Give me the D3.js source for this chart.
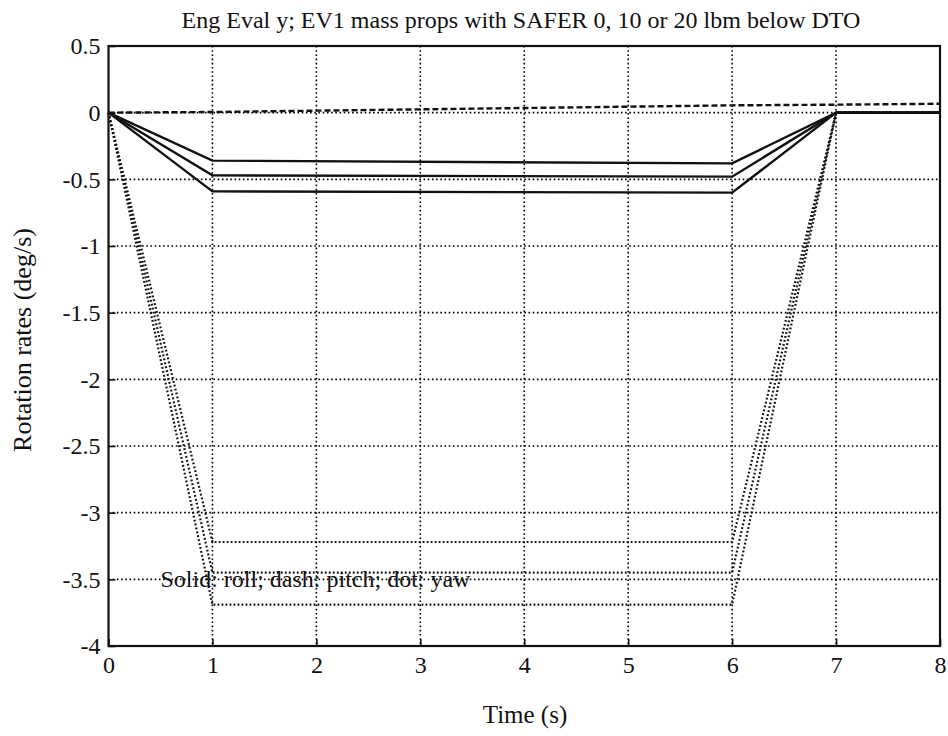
<!DOCTYPE html>
<html>
<head>
<meta charset="utf-8">
<script src="https://cdn.jsdelivr.net/npm/d3@7"></script>
<style>
  body { margin: 0; background: #fff; }
  text { font-family: "Liberation Serif", "DejaVu Serif", serif; fill: #111; }
</style>
</head>
<body>
<div id="chart"></div>
<script>
// time samples (s)
var times = [0, 1, 6, 7, 8];
// roll rates, solid lines (deg/s), one per SAFER mass case
var roll0 = [0, -0.36, -0.38, 0, 0];
var roll10 = [0, -0.47, -0.48, 0, 0];
var roll20 = [0, -0.59, -0.60, 0, 0];
// pitch rate, dashed
var pitchTimes = [0, 1, 2, 3, 4, 5, 6, 7, 8];
var pitch = [0, 0.005, 0.015, 0.025, 0.035, 0.045, 0.055, 0.06, 0.067];
// yaw rates, dotted
var yaw0 = [0, -3.22, -3.22, 0, 0];
var yaw10 = [0, -3.45, -3.45, 0, 0];
var yaw20 = [0, -3.69, -3.69, 0, 0];

var xTicks = [0, 1, 2, 3, 4, 5, 6, 7, 8];
var yTicks = [0.5, 0, -0.5, -1, -1.5, -2, -2.5, -3, -3.5, -4];

var titleText = "Eng Eval y; EV1 mass props with SAFER 0, 10 or 20 lbm below DTO";
var xLabel = "Time (s)";
var yLabel = "Rotation rates (deg/s)";
var note = "Solid: roll; dash: pitch; dot: yaw";

var W = 948, H = 736;
var plotL = 108.5, plotT = 46, plotR = 940, plotB = 646;

var svg = d3.select("#chart").append("svg")
  .attr("width", W).attr("height", H);

var x = d3.scaleLinear().domain([0, 8]).range([plotL, plotR]);
var y = d3.scaleLinear().domain([-4, 0.5]).range([plotB, plotT]);

// grid
var grid = svg.append("g").attr("stroke", "#000").attr("stroke-width", 1.6)
  .attr("stroke-dasharray", "1.6,2.6");
grid.selectAll(".gx").data(xTicks.slice(1, -1)).enter().append("line")
  .attr("x1", d => x(d)).attr("x2", d => x(d))
  .attr("y1", plotT).attr("y2", plotB);
grid.selectAll(".gy").data(yTicks.slice(1, -1)).enter().append("line")
  .attr("y1", d => y(d)).attr("y2", d => y(d))
  .attr("x1", plotL).attr("x2", plotR);

// axes (ticks inward)
var xAxis = d3.axisBottom(x).tickValues(xTicks).tickSize(-7).tickPadding(10)
  .tickFormat(d3.format("d"));
var yAxis = d3.axisLeft(y).tickValues(yTicks).tickSize(-7).tickPadding(8)
  .tickFormat(d => d === 0 ? "0" : String(d));

var gx = svg.append("g").attr("transform", "translate(0," + plotB + ")").call(xAxis);
var gy = svg.append("g").attr("transform", "translate(" + plotL + ",0)").call(yAxis);
[gx, gy].forEach(g => {
  g.select(".domain").remove();
  g.selectAll("line").attr("stroke", "#111").attr("stroke-width", 1.6);
  g.selectAll("text").attr("font-size", 24);
});

// frame
svg.append("rect")
  .attr("x", plotL).attr("y", plotT)
  .attr("width", plotR - plotL).attr("height", plotB - plotT)
  .attr("fill", "none").attr("stroke", "#111").attr("stroke-width", 2.2);

var line = d3.line().x(d => x(d[0])).y(d => y(d[1]));
var lines = svg.append("g").attr("fill", "none").attr("stroke", "#111");

[roll0, roll10, roll20].forEach(s => {
  lines.append("path").datum(d3.zip(times, s)).attr("d", line)
    .attr("stroke-width", 2.4);
});
lines.append("path").datum(d3.zip(pitchTimes, pitch)).attr("d", line)
  .attr("stroke-width", 2.4).attr("stroke-dasharray", "6,3");
[yaw0, yaw10, yaw20].forEach(s => {
  lines.append("path").datum(d3.zip(times, s)).attr("d", line)
    .attr("stroke-width", 2.2).attr("stroke-dasharray", "1.8,2.2");
});

// texts
svg.append("text").attr("x", 521).attr("y", 28).attr("text-anchor", "middle")
  .attr("font-size", 24).text(titleText);
svg.append("text").attr("x", 525).attr("y", 723).attr("text-anchor", "middle")
  .attr("font-size", 25).text(xLabel);
svg.append("text").attr("transform", "translate(31,340) rotate(-90)")
  .attr("text-anchor", "middle").attr("font-size", 26).text(yLabel);
svg.append("text").attr("x", x(0.5)).attr("y", y(-3.5) + 8)
  .attr("font-size", 24).text(note);
</script>
</body>
</html>
